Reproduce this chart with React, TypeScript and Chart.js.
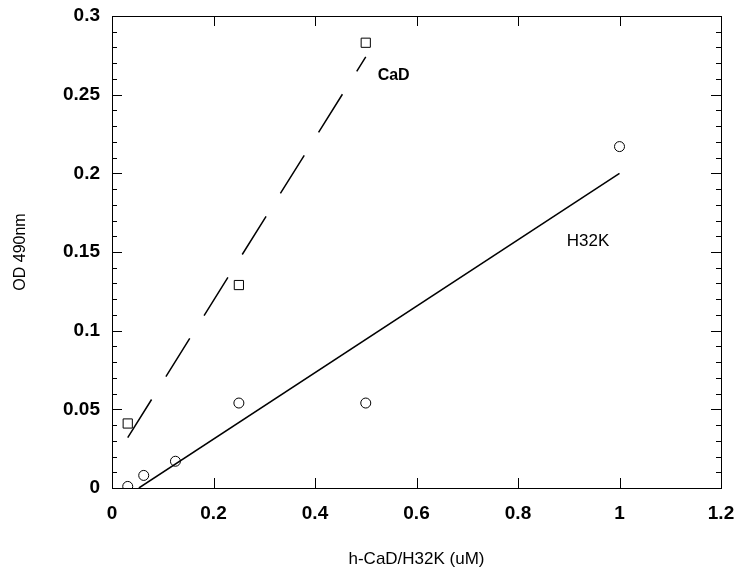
import React, { useEffect, useRef } from 'react';
import { Chart, registerables } from 'chart.js';

Chart.register(...registerables);

// ---- data ----
const cadX = [0.031, 0.25, 0.5];
const cadY = [0.041, 0.129, 0.283];
const h32kX = [0.031, 0.0625, 0.125, 0.25, 0.5, 1.0];
const h32kY = [0.001, 0.008, 0.017, 0.054, 0.054, 0.217];
const cadFitX = [0.031, 0.5];
const cadFitY = [0.032, 0.274];
const h32kFitX = [0.053, 1.0];
const h32kFitY = [0.0, 0.2];
const xTicks = [0, 0.2, 0.4, 0.6, 0.8, 1, 1.2];
const xTickLabels = ['0', '0.2', '0.4', '0.6', '0.8', '1', '1.2'];
const yTicks = [0, 0.05, 0.1, 0.15, 0.2, 0.25, 0.3];
const yTickLabels = ['0', '0.05', '0.1', '0.15', '0.2', '0.25', '0.3'];
const yMinorStep = 0.01;
const seriesNames = ['CaD', 'H32K'];
const seriesNameX = [0.555, 0.938];
const seriesNameY = [0.262, 0.157];

const FONT = "'Liberation Sans', Arial, Helvetica, sans-serif";

const toPts = (xs: number[], ys: number[]) => xs.map((x, i) => ({ x, y: ys[i] }));

const framePlugin = {
  id: 'frame',
  afterDatasetsDraw(chart: any) {
    const { ctx, chartArea: a, scales } = chart;
    const x = scales.x;
    const y = scales.y;
    ctx.save();
    ctx.strokeStyle = '#000';
    ctx.lineWidth = 1;
    ctx.strokeRect(Math.round(a.left) + 0.5, Math.round(a.top) + 0.5, Math.round(a.right - a.left), Math.round(a.bottom - a.top));
    ctx.beginPath();
    for (const v of xTicks) {
      const px = Math.round(x.getPixelForValue(v)) + 0.5;
      ctx.moveTo(px, a.bottom);
      ctx.lineTo(px, a.bottom - 10);
      ctx.moveTo(px, a.top);
      ctx.lineTo(px, a.top + 10);
    }
    const yMax = yTicks[yTicks.length - 1];
    const n = Math.round((yMax - yTicks[0]) / yMinorStep);
    for (let i = 0; i <= n; i++) {
      const v = yTicks[0] + i * yMinorStep;
      const len = i % 5 === 0 ? 10 : 5;
      const py = Math.round(y.getPixelForValue(v)) + 0.5;
      ctx.moveTo(a.left, py);
      ctx.lineTo(a.left + len, py);
      ctx.moveTo(a.right, py);
      ctx.lineTo(a.right - len, py);
    }
    ctx.stroke();

    ctx.fillStyle = '#000';
    ctx.textAlign = 'center';
    ctx.textBaseline = 'middle';
    seriesNames.forEach((name, i) => {
      ctx.font = (i === 0 ? 'bold 16px ' : '17px ') + FONT;
      ctx.fillText(name, x.getPixelForValue(seriesNameX[i]), y.getPixelForValue(seriesNameY[i]));
    });
    ctx.restore();
  },
};

export default function App() {
  const ref = useRef<HTMLCanvasElement>(null);
  useEffect(() => {
    if (!ref.current) return;
    const chart = new Chart(ref.current, {
      type: 'scatter',
      data: {
        datasets: [
          {
            label: 'CaD fit',
            data: toPts(cadFitX, cadFitY),
            showLine: true,
            borderColor: '#000',
            borderWidth: 1.5,
            borderDash: [45, 27],
            pointRadius: 0,
          },
          {
            label: 'H32K fit',
            data: toPts(h32kFitX, h32kFitY),
            showLine: true,
            borderColor: '#000',
            borderWidth: 1.5,
            pointRadius: 0,
          },
          {
            label: 'CaD',
            data: toPts(cadX, cadY),
            pointStyle: 'rect',
            pointRadius: 6.5,
            pointBackgroundColor: 'rgba(0,0,0,0)',
            pointBorderColor: '#000',
            pointBorderWidth: 1,
            showLine: false,
          },
          {
            label: 'H32K',
            data: toPts(h32kX, h32kY),
            pointStyle: 'circle',
            pointRadius: 5,
            pointBackgroundColor: 'rgba(0,0,0,0)',
            pointBorderColor: '#000',
            pointBorderWidth: 1,
            showLine: false,
          },
        ],
      },
      options: {
        animation: false,
        responsive: false,
        layout: { padding: { top: 16, right: 28, left: 0, bottom: 0 } },
        plugins: { legend: { display: false }, tooltip: { enabled: false } },
        scales: {
          x: {
            type: 'linear',
            min: 0,
            max: 1.2,
            grid: { display: false, drawTicks: false },
            border: { display: false },
            afterBuildTicks: (s: any) => {
              s.ticks = xTicks.map((v) => ({ value: v }));
            },
            afterFit: (s: any) => {
              s.height = 90;
              s.paddingLeft = 0;
              s.paddingRight = 0;
            },
            ticks: {
              color: '#000',
              padding: 14,
              font: { family: FONT, size: 19, weight: 'bold' },
              maxRotation: 0,
              autoSkip: false,
              callback: (_v: any, i: number) => xTickLabels[i],
            },
            title: {
              display: true,
              text: 'h-CaD/H32K (uM)',
              color: '#000',
              font: { family: FONT, size: 17 },
              padding: { top: 0, bottom: 8 },
            },
          },
          y: {
            type: 'linear',
            min: 0,
            max: 0.3,
            grid: { display: false, drawTicks: false },
            border: { display: false },
            afterBuildTicks: (s: any) => {
              s.ticks = yTicks.map((v) => ({ value: v }));
            },
            afterFit: (s: any) => {
              s.width = 112;
              s.paddingTop = 0;
              s.paddingBottom = 0;
            },
            ticks: {
              color: '#000',
              padding: 12,
              font: { family: FONT, size: 19, weight: 'bold' },
              autoSkip: false,
              callback: (_v: any, i: number) => yTickLabels[i],
            },
            title: {
              display: true,
              text: 'OD 490nm',
              color: '#000',
              font: { family: FONT, size: 16 },
              padding: { top: 11, bottom: 0 },
            },
          },
        },
      },
      plugins: [framePlugin],
    } as any);
    return () => chart.destroy();
  }, []);
  return (
    <div style={{ position: 'fixed', left: 0, top: 0, width: 749, height: 578, background: '#fff' }}>
      <canvas ref={ref} width={749} height={578} style={{ display: 'block' }} />
    </div>
  );
}
